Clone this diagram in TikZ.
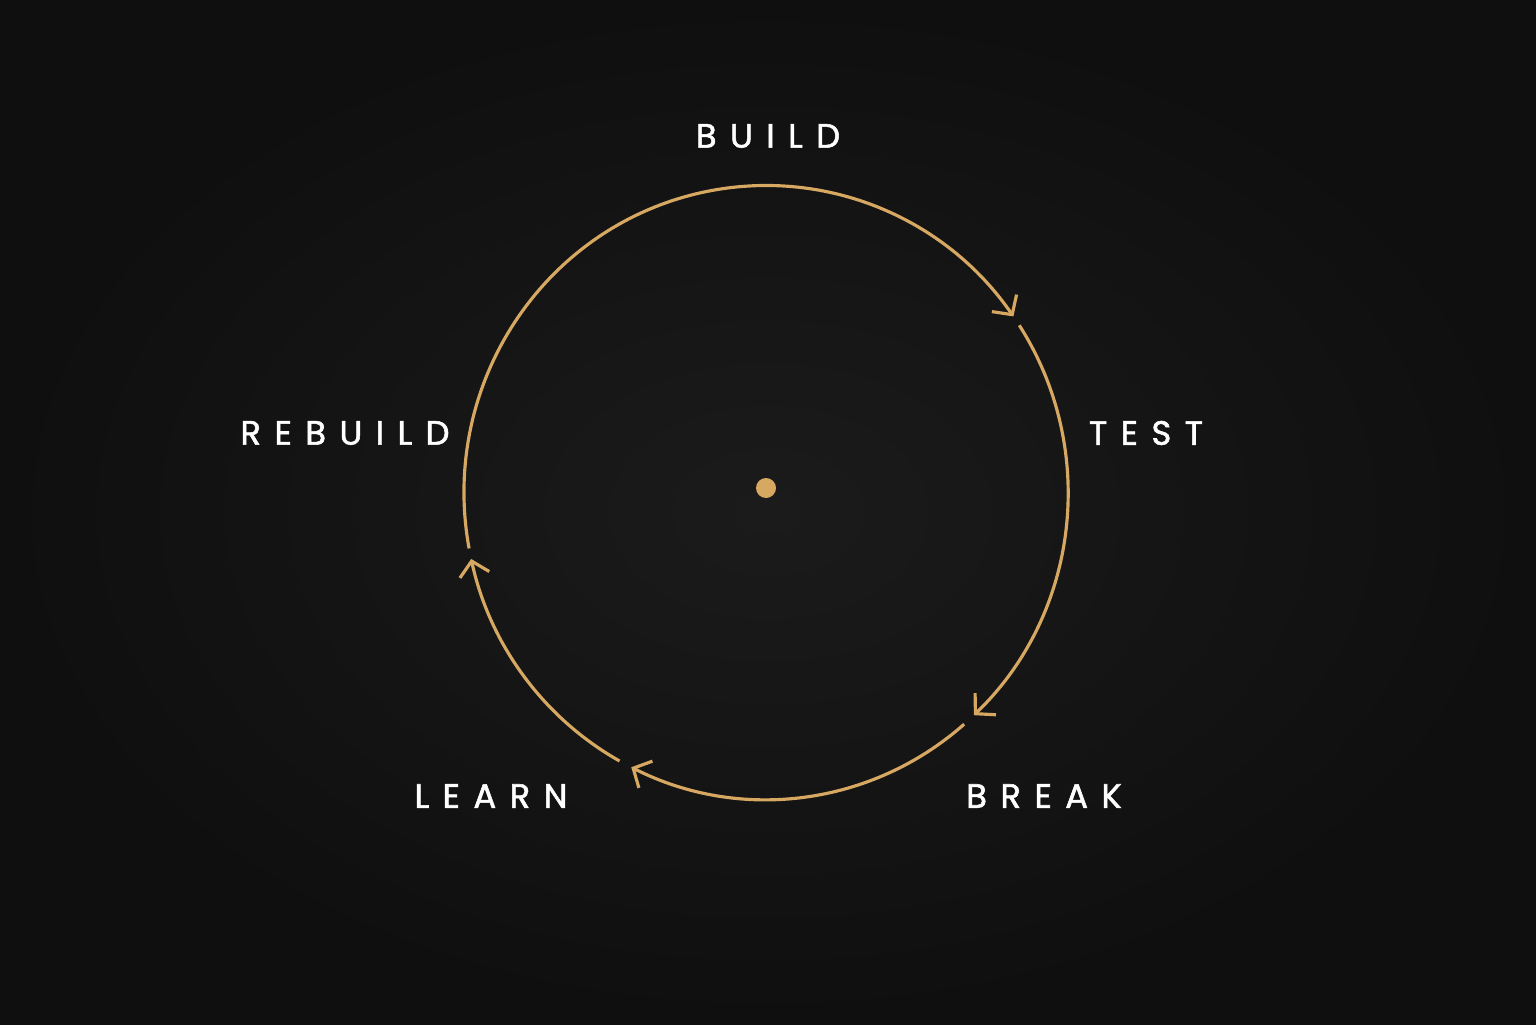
\documentclass[tikz,border=0pt]{standalone}
\usepackage{fontspec}
\setmainfont{Poppins}
\usepackage{xcolor}
\usepackage{tikz}
\usetikzlibrary{positioning,calc,arrows.meta}
\definecolor{gold}{RGB}{214,168,98}
\definecolor{bgin}{RGB}{27,27,27}
\definecolor{bgout}{RGB}{15,15,15}
\tikzset{
    stage/.style={text=white, font=\fontsize{9.6}{11}\selectfont\addfontfeature{LetterSpace=40,FakeBold=1.6}},
    loop/.style={draw=gold, line width=0.9pt, -{Straight Barb[length=0.14cm, width=0.3cm, line width=0.9pt]}}
}

\begin{document}
\begin{tikzpicture}
    \shade[inner color=bgin, outer color=bgout] (0,0) rectangle (15.36,10.24);
    \useasboundingbox (0,0) rectangle (15.36,10.24);
    \coordinate (c) at (7.66,5.315);
    \fill[gold] (7.66,5.36) circle (0.1);

    \draw[loop] (c) ++(190.5:3.02 and 3.07) arc[start angle=190.5, end angle=35, x radius=3.02, y radius=3.07];
    \draw[loop] (c) ++(33:3.02 and 3.07) arc[start angle=33, end angle=-46.5, x radius=3.02, y radius=3.07];
    \draw[loop] (c) ++(-49:3.02 and 3.07) arc[start angle=-49, end angle=-116.5, x radius=3.02, y radius=3.07];
    \draw[loop] (c) ++(-119:3.02 and 3.07) arc[start angle=-119, end angle=-167.5, x radius=3.02, y radius=3.07];

    \node[stage] (build) at (7.68,8.88) {BUILD};
    \node[stage] (test) at (11.46,5.91) {TEST};
    \node[stage] (break) at (10.44,2.28) {BREAK};
    \node[stage] (learn) at (4.91,2.28) {LEARN};
    \node[stage] (rebuild) at (3.45,5.91) {REBUILD};
\end{tikzpicture}
\end{document}
